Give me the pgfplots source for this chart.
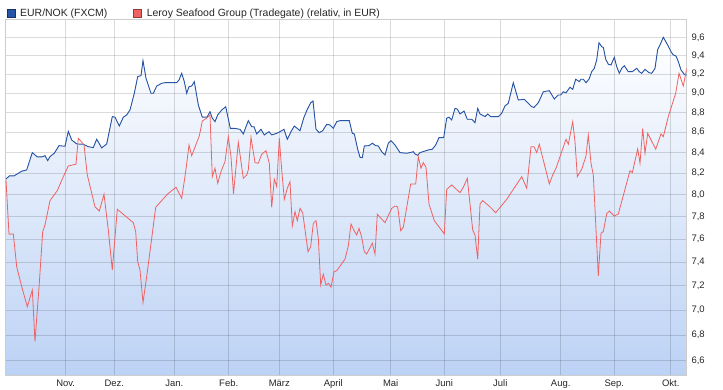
\documentclass[border=0pt]{standalone}
\usepackage{fontspec}
\setmainfont{Liberation Sans}
\usepackage{pgfplots}
\pgfplotsset{compat=1.18}
\usepgfplotslibrary{fillbetween}
\usepackage{pgfplotstable}
\definecolor{nokblue}{RGB}{38,84,166}
\definecolor{lsgred}{RGB}{240,98,98}
\definecolor{fillblue}{RGB}{188,210,245}
\definecolor{framegray}{RGB}{205,205,205}
\pgfplotsset{
  layers/mylayers/.define layer set={axis background,pre main,axis grid,axis ticks,axis lines,axis tick labels,main,axis descriptions,axis foreground}{},
}

\pgfplotstableread{
x y
6 8.146
9.3 8.175
14 8.175
21.7 8.220
26.7 8.232
32.3 8.399
37.3 8.357
41.7 8.357
45 8.369
47.7 8.321
50 8.360
54.3 8.393
59 8.467
65 8.461
68.3 8.609
71.7 8.523
76.7 8.484
83.3 8.481
88.3 8.457
93.3 8.448
96.7 8.530
101.7 8.445
106.7 8.484
112.3 8.757
115 8.751
119.3 8.662
123.3 8.751
126.7 8.774
130 8.824
134.3 8.997
137.7 9.172
141 9.183
143 9.343
146 9.155
151 8.997
153.3 8.997
156.7 9.073
161.7 9.102
165 9.108
176.7 9.108
179 9.137
181.7 9.208
184.3 9.119
186.7 8.997
189 9.066
191.7 9.073
194.3 9.119
198.3 8.876
202.3 8.751
207 8.751
210 8.807
212.3 8.741
215 8.706
217.7 8.774
221.7 8.824
225.7 8.858
230.3 8.639
234.3 8.639
240 8.629
243.3 8.583
248.3 8.716
251.7 8.655
254 8.655
256.7 8.583
261 8.629
264.3 8.573
269 8.605
271.7 8.573
276.7 8.589
280 8.605
284 8.629
287.3 8.530
291 8.605
294.3 8.662
300 8.615
304 8.751
307.3 8.831
310.7 8.899
313 8.917
316 8.629
319.3 8.595
322.7 8.615
326.7 8.679
330 8.672
333.3 8.639
336.7 8.706
340 8.716
349.3 8.716
352.3 8.589
354.3 8.583
357.7 8.432
360 8.354
362.3 8.350
364.3 8.464
369 8.467
372.3 8.491
375.7 8.467
378.3 8.464
381.7 8.408
385 8.376
388.3 8.491
391 8.516
395 8.474
400 8.399
406.7 8.393
410 8.399
413.3 8.408
415 8.386
417.7 8.373
420 8.399
428.3 8.425
432.3 8.432
435.7 8.474
439 8.546
443.7 8.546
446.7 8.741
449 8.751
451.7 8.723
455 8.841
457.3 8.834
460 8.784
464 8.814
467.3 8.730
471.7 8.730
475 8.696
477.7 8.841
480 8.784
485 8.757
487.7 8.784
490.7 8.757
498.3 8.757
501.7 8.791
505 8.866
508.3 8.893
513.3 9.108
518.3 8.927
524.3 8.934
528.3 8.893
531.7 8.858
534 8.851
538.3 8.899
543.3 9.013
549.3 9.024
554.3 8.937
558.3 8.979
560.7 8.979
563.3 9.013
566 9.003
570 9.060
572.7 9.038
575.7 9.145
579.3 9.119
581 9.145
583.3 9.145
586 9.108
589 9.145
591.7 9.225
594.3 9.261
596.7 9.351
599 9.540
601.7 9.496
603.3 9.489
605.7 9.359
608.3 9.305
611 9.297
614.3 9.380
616.7 9.279
619.3 9.208
621.7 9.261
624.3 9.289
628.3 9.225
632.3 9.225
636.7 9.261
639.3 9.225
641.7 9.208
645 9.250
649 9.214
651.7 9.208
655 9.261
657.7 9.467
660 9.515
663.3 9.600
667.7 9.515
671 9.441
673.3 9.405
676 9.394
678.3 9.333
681 9.243
684.3 9.197
686.7 9.190
}\eurnok

\pgfplotstableread{
x y
6 8.137
9 7.641
13.3 7.644
16.7 7.359
21.7 7.191
27.3 7.026
32.3 7.163
35 6.747
39.3 7.219
42.7 7.664
45 7.724
50 7.945
57.3 8.037
63.3 8.168
68.3 8.270
76 8.287
78.3 8.540
82.7 8.491
84 8.474
87.3 8.184
95 7.889
99.3 7.850
104 8.003
108.3 7.679
112.3 7.331
117.3 7.866
133.3 7.745
135.7 7.664
137.7 7.402
140 7.331
143 7.059
146.7 7.275
151.7 7.606
155.7 7.884
161.7 7.945
167.7 8.006
176 8.068
181.7 7.966
185.7 8.216
189 8.474
191.7 8.369
199.3 8.563
202.3 8.713
206.7 8.741
210 8.774
212.3 8.168
215 8.248
217.7 8.106
221 8.216
225 8.312
228.3 8.556
231 8.360
233.5 8.006
238.3 8.500
243.3 8.153
246.7 8.184
248.3 8.232
251 8.550
255 8.302
258.3 8.296
261.7 8.383
266 8.418
269.3 8.296
271.7 7.884
274.3 8.144
276.7 8.074
279.3 8.540
281.7 8.232
284.3 7.957
287.3 8.059
290 8.121
292.3 7.715
295 7.844
297.3 7.763
300 7.875
302.7 7.835
308 7.489
310.7 7.532
313.3 7.739
316 7.763
318.3 7.606
320.7 7.205
323.3 7.295
326 7.205
328.7 7.219
331 7.186
334 7.317
336.7 7.325
345 7.425
348.3 7.538
351 7.733
354.3 7.670
356.7 7.635
359 7.694
361.7 7.614
364.3 7.489
366.7 7.469
372.3 7.562
375 7.469
377.3 7.820
385 7.745
391.7 7.875
395 7.896
397.7 7.889
400.7 7.673
403.3 7.703
410.7 8.099
415.7 8.099
418.3 8.360
421 8.248
423.3 8.302
426 8.257
429 7.914
434.3 7.763
444.3 7.644
446.7 8.049
451.7 8.090
460 8.018
463.3 8.068
467.3 8.153
472.7 7.679
475 7.635
477.7 7.423
480 7.914
482.7 7.945
490 7.889
495.7 7.835
506.7 7.957
521.7 8.168
526.7 8.059
531 8.457
534 8.457
536.7 8.399
539.3 8.481
549.3 8.099
552.7 8.184
556 8.248
566 8.530
568.3 8.481
572.7 8.706
575 8.507
577.3 8.168
579.3 8.200
581.7 8.239
586 8.367
588.3 8.573
591 8.296
593.3 8.184
595.7 7.739
598.3 7.281
601 7.650
603.3 7.664
606.7 7.826
609.3 7.850
614.3 7.805
618.3 7.823
630 8.225
632.3 8.206
637.7 8.435
640 8.296
642.7 8.639
645 8.393
647.7 8.589
655.7 8.432
661 8.583
663.3 8.556
668.3 8.757
675.7 8.997
679 9.208
683.3 9.073
686.7 9.261
}\leroy

\begin{document}
\begin{tikzpicture}
\begin{axis}[
  at={(5.5bp,15bp)}, anchor=south west,
  scale only axis, width=681bp, height=356bp,
  xmin=5.5, xmax=686.5,
  ymode=log, ymin=6.491, ymax=9.806,
  set layers=mylayers,
  xtick={65.7,114.3,174.3,228.7,279.3,333.3,390.7,444.3,500.3,560.7,614.3,670.7},
  xticklabels={Nov.,Dez.,Jan.,Feb.,März,April,Mai,Juni,Juli,Aug.,Sep.,Okt.},
  ytick={6.6,6.8,7.0,7.2,7.4,7.6,7.8,8.0,8.2,8.4,8.6,8.8,9.0,9.2,9.4,9.6},
  yticklabels={{6,6},{6,8},{7,0},{7,2},{7,4},{7,6},{7,8},{8,0},{8,2},{8,4},{8,6},{8,8},{9,0},{9,2},{9,4},{9,6}},
  yticklabel pos=right,
  yticklabel style={xshift=1.5bp},
  xticklabel style={yshift=-1bp},
  major tick length=0pt,
  grid=major,
  major grid style={black, opacity=0.14, line width=0.6bp},
  axis line style={framegray, line width=0.6bp},
  tick label style={font=\fontsize{9.5}{11}\selectfont, text=black!85},
  legend style={at={(0,1)}, anchor=south west, xshift=-2bp, yshift=-3bp, draw=none, fill=none,
    font=\fontsize{10.5}{12}\selectfont, text=black!85,
    /tikz/every odd column/.append style={column sep=3bp},
    /tikz/every even column/.append style={column sep=24bp}},
  legend columns=2, legend cell align=left,
]
\addplot[nokblue, line width=0.9bp, name path=blueline,
  legend image code/.code={\draw[draw=nokblue!60!black, fill=nokblue, line width=0.5bp] (0bp,-3.6bp) rectangle (8bp,3.6bp);}]
  table[x=x, y=y] {\eurnok};
\addlegendentry{EUR/NOK (FXCM)}
\addplot[lsgred, line width=0.8bp,
  legend image code/.code={\draw[draw=lsgred!60!black, fill=lsgred, line width=0.5bp] (0bp,-3.6bp) rectangle (8bp,3.6bp);}]
  table[x=x, y=y] {\leroy};
\addlegendentry{Leroy Seafood Group (Tradegate) (relativ, in EUR)}
\path[name path=axisbottom] (axis cs:5.5,6.491) -- (axis cs:687,6.491);
\addplot[top color=white, bottom color=fillblue, forget plot] fill between[of=blueline and axisbottom];
\end{axis}
\pgfresetboundingbox
\path[use as bounding box] (0,0) rectangle (723bp,390bp);
\end{tikzpicture}
\end{document}
